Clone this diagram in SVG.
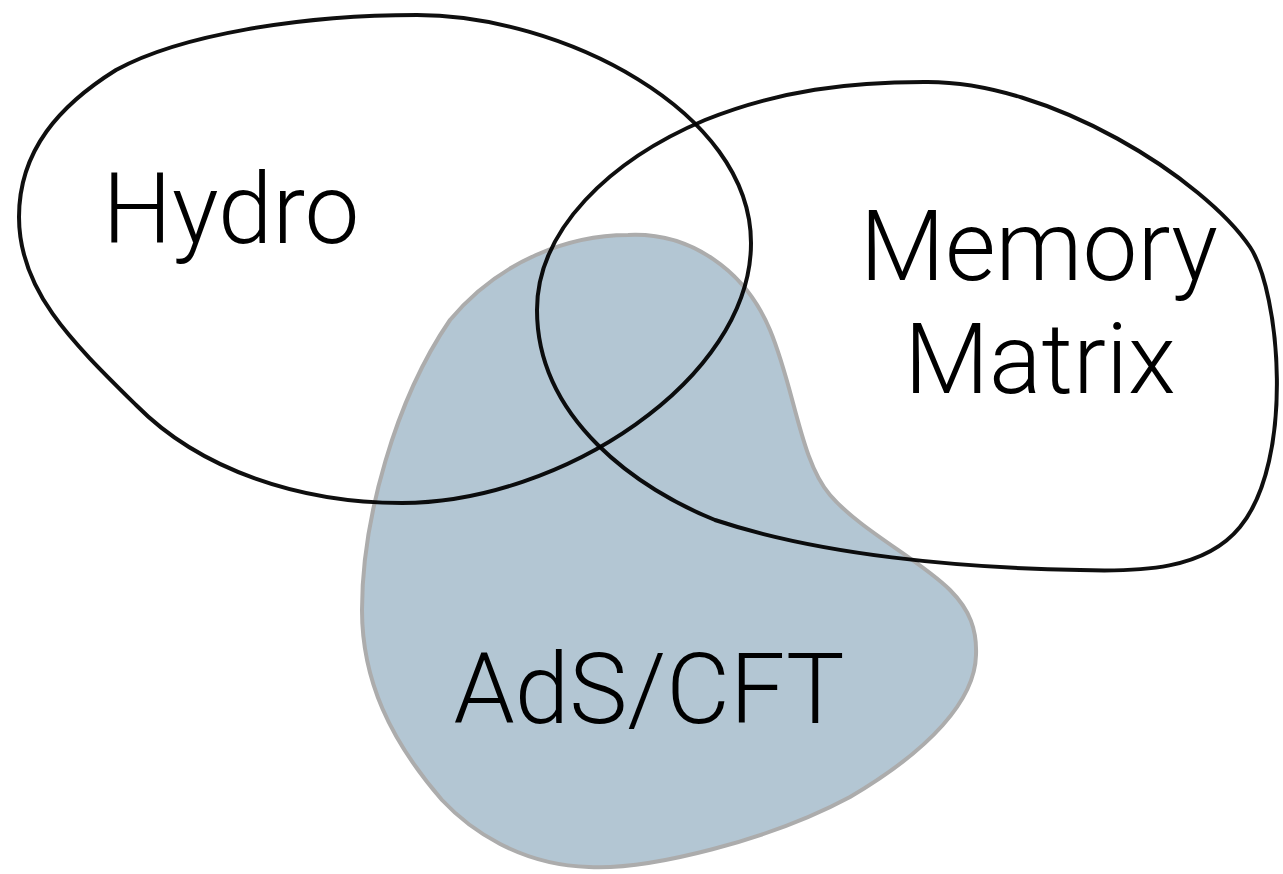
<svg xmlns="http://www.w3.org/2000/svg" width="1283" height="874" viewBox="0 0 1283 874">
<style>
.blob{fill:#b3c6d3;stroke:#acacac;stroke-width:4}
.ring{fill:none;stroke:#000;stroke-opacity:0.94;stroke-width:4}
.lbl{font-family:Roboto,"Liberation Sans",sans-serif;font-weight:300;font-size:98px;fill:#000;text-anchor:middle}
</style>
<rect width="1283" height="874" fill="#fff"/>
<g id="ads">
<path class="blob" d="M628,235 C690,232 745,270 770,330 C795,390 800,460 830,495 C860,530 920,560 950,590 C970,610 977,630 976,655 C975,700 930,750 850,797 C770,840 650,870 589,867 C520,865 470,830 442,800 C390,740 362,680 362,610 C362,520 395,400 450,320 C500,260 570,235 628,235 Z"/>
<text class="lbl" x="649" y="723">AdS/CFT</text>
</g>
<g id="hydro">
<path class="ring" d="M417,15 C560,15 751,110 751,243 C751,380 560,503 402,503 C300,503 200,470 136,405 C70,340 19,290 19,217 C19,150 60,105 116,70 C180,35 300,15 417,15 Z"/>
<text class="lbl" x="231" y="243">Hydro</text>
</g>
<g id="memory">
<path class="ring" d="M924,82 C1050,80 1205,180 1250,247 C1280,292 1295,460 1240,527 C1205,570 1140,572 1080,570 C960,568 820,555 715,520 C640,490 537,420 537,310 C537,230 610,160 705,120 C780,90 850,82 924,82 Z"/>
<text class="lbl" x="1039" y="280">Memory</text>
<text class="lbl" x="1040" y="393">Matrix</text>
</g>
<g id="connectors"/>
</svg>
